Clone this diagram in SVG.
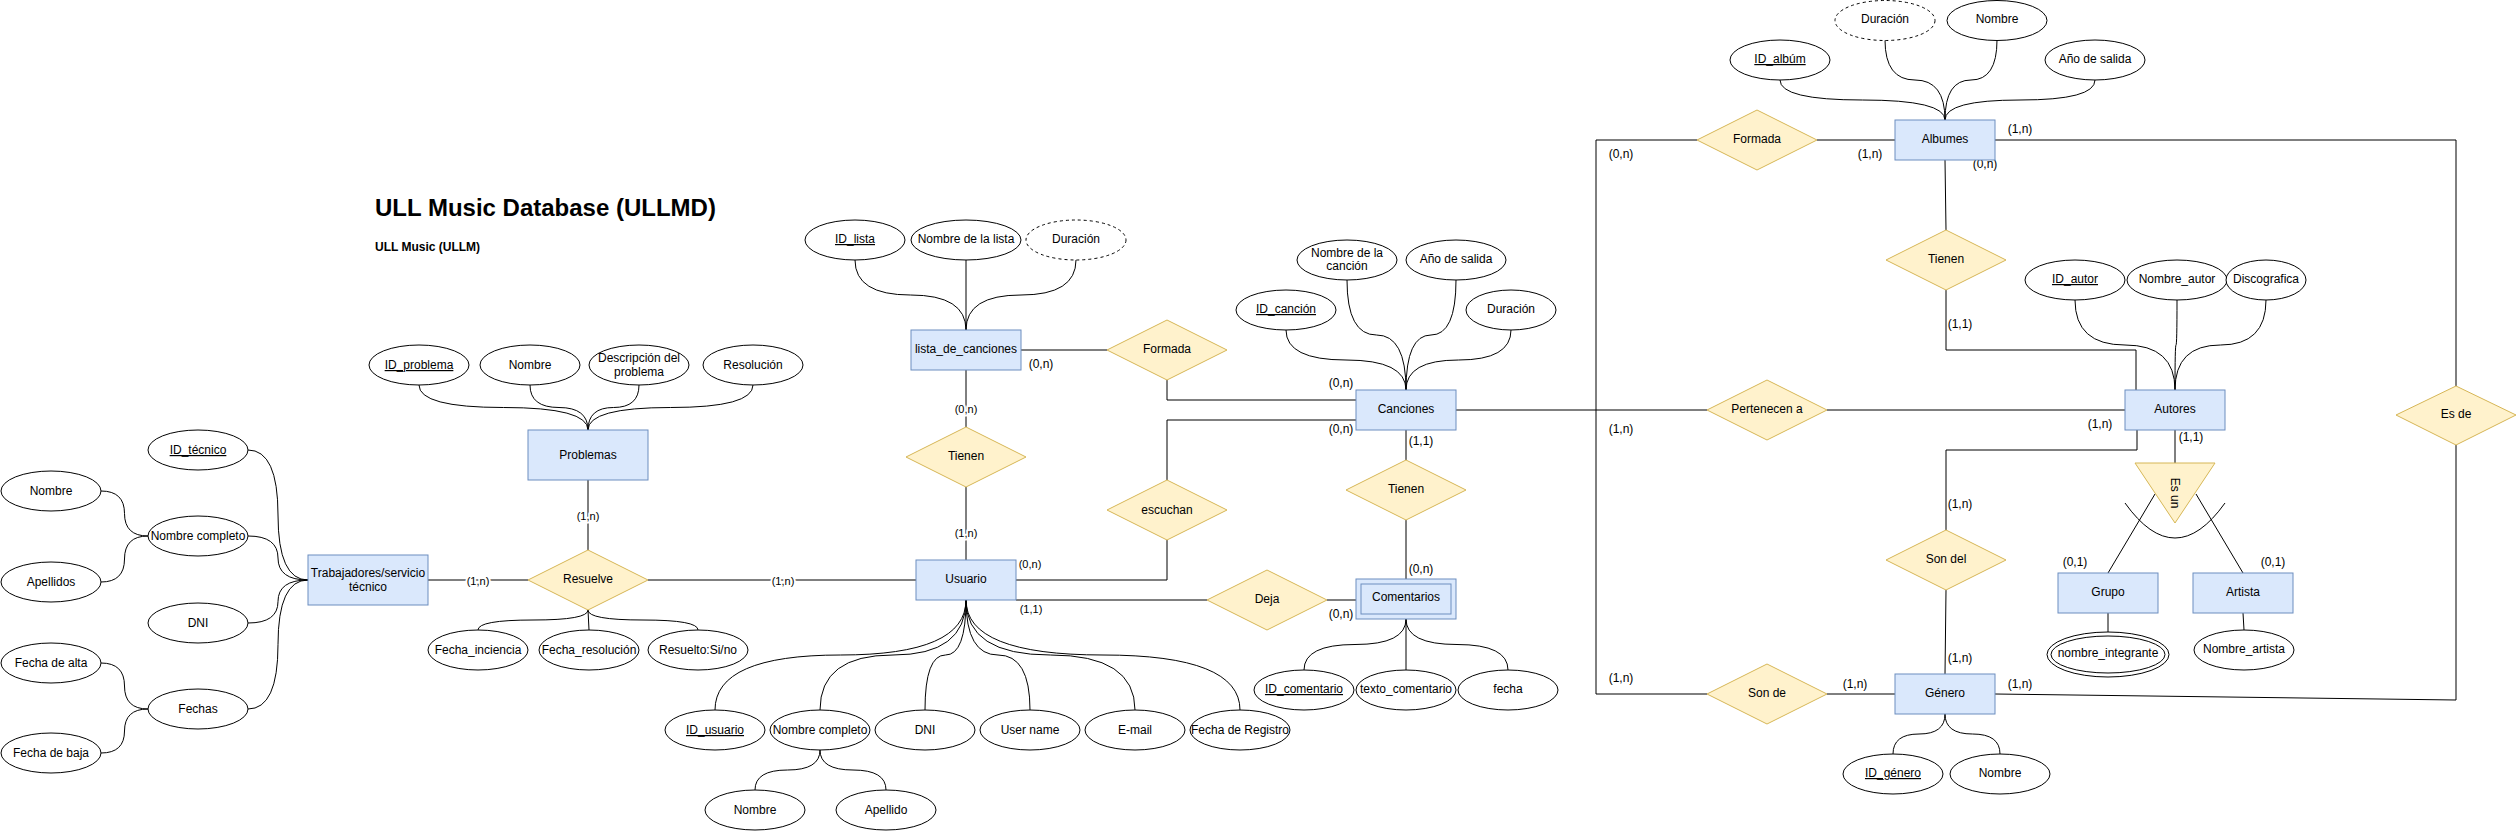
<svg xmlns="http://www.w3.org/2000/svg" width="2517" height="831" viewBox="0 0 2517 831">
<style>
.ent{fill:#dae8fc;stroke:#6c8ebf;stroke-width:1}
.rel{fill:#fff2cc;stroke:#d6b656;stroke-width:1}
.att{fill:#fff;stroke:#000;stroke-width:1}
.dash{stroke-dasharray:3 3}
.e{fill:none;stroke:#000;stroke-width:1}
text{font-family:"Liberation Sans",Arial,Helvetica,sans-serif;font-size:12px;fill:#000;text-anchor:middle;dominant-baseline:central}
.u{text-decoration:underline;dominant-baseline:auto}
.lb{font-size:12px}
.lw{font-size:11px;stroke:#fff;stroke-width:4px;paint-order:stroke;stroke-linejoin:round}
.title{font-size:24px;font-weight:bold;text-anchor:start;dominant-baseline:auto}
.sub{font-size:12px;font-weight:bold;text-anchor:start;dominant-baseline:auto}
</style>
<rect width="2517" height="831" fill="#fff"/>

<g id="titles">
<text class="title" x="375" y="216">ULL Music Database (ULLMD)</text>
<text class="sub" x="375" y="251">ULL Music (ULLM)</text>
</g>

<g id="connectors">
<path class="e" d="M248 450 Q278 450 278 515 Q278 580 308 580"/>
<path class="e" d="M248 536 Q278 536 278 558 Q278 580 308 580"/>
<path class="e" d="M248 623 Q278 623 278 601.5 Q278 580 308 580"/>
<path class="e" d="M248 709 Q278 709 278 644.5 Q278 580 308 580"/>
<path class="e" d="M101 491 Q124.5 491 124.5 513.5 Q124.5 536 148 536"/>
<path class="e" d="M101 582 Q124.5 582 124.5 559 Q124.5 536 148 536"/>
<path class="e" d="M101 663 Q124.5 663 124.5 686 Q124.5 709 148 709"/>
<path class="e" d="M101 753 Q124.5 753 124.5 731 Q124.5 709 148 709"/>
<path class="e" d="M419 385 Q419 407.5 503.5 407.5 Q588 407.5 588 430"/>
<path class="e" d="M530 385 Q530 407.5 559 407.5 Q588 407.5 588 430"/>
<path class="e" d="M639 385 Q639 407.5 613.5 407.5 Q588 407.5 588 430"/>
<path class="e" d="M753 385 Q753 407.5 670.5 407.5 Q588 407.5 588 430"/>
<path class="e" d="M588 610 Q588 620 533 620 Q478 620 478 630"/>
<path class="e" d="M588 610 L589 630"/>
<path class="e" d="M588 610 Q588 620 643 620 Q698 620 698 630"/>
<path class="e" d="M855 260 Q855 295 910.5 295 Q966 295 966 330"/>
<path class="e" d="M966 260 L966 330"/>
<path class="e" d="M1076 260 Q1076 295 1021 295 Q966 295 966 330"/>
<path class="e" d="M966 600 Q966 655 840.5 655 Q715 655 715 710"/>
<path class="e" d="M966 600 Q966 655 893 655 Q820 655 820 710"/>
<path class="e" d="M966 600 Q966 655 945.5 655 Q925 655 925 710"/>
<path class="e" d="M966 600 Q966 655 998 655 Q1030 655 1030 710"/>
<path class="e" d="M966 600 Q966 655 1050.5 655 Q1135 655 1135 710"/>
<path class="e" d="M966 600 Q966 655 1103 655 Q1240 655 1240 710"/>
<path class="e" d="M820 750 Q820 770 787.5 770 Q755 770 755 790"/>
<path class="e" d="M820 750 Q820 770 853 770 Q886 770 886 790"/>
<path class="e" d="M1286 330 Q1286 360 1346 360 Q1406 360 1406 390"/>
<path class="e" d="M1347 280 Q1347 335 1376.5 335 Q1406 335 1406 390"/>
<path class="e" d="M1456 280 Q1456 335 1431 335 Q1406 335 1406 390"/>
<path class="e" d="M1511 330 Q1511 360 1458.5 360 Q1406 360 1406 390"/>
<path class="e" d="M1406 619 Q1406 644.5 1355 644.5 Q1304 644.5 1304 670"/>
<path class="e" d="M1406 619 L1406 670"/>
<path class="e" d="M1406 619 Q1406 644.5 1457 644.5 Q1508 644.5 1508 670"/>
<path class="e" d="M1780 80 Q1780 100 1862.5 100 Q1945 100 1945 120"/>
<path class="e" d="M1885 40 Q1885 80 1915 80 Q1945 80 1945 120"/>
<path class="e" d="M1997 40 Q1997 80 1971 80 Q1945 80 1945 120"/>
<path class="e" d="M2095 80 Q2095 100 2020 100 Q1945 100 1945 120"/>
<path class="e" d="M2075 300 Q2075 345 2125 345 Q2175 345 2175 390"/>
<path class="e" d="M2177 300 Q2177 345 2176 345 Q2175 345 2175 390"/>
<path class="e" d="M2266 300 Q2266 345 2220.5 345 Q2175 345 2175 390"/>
<path class="e" d="M1945 714 Q1945 734 1919 734 Q1893 734 1893 754"/>
<path class="e" d="M1945 714 Q1945 734 1972.5 734 Q2000 734 2000 754"/>
<path class="e" d="M2108 613 L2108 632"/>
<path class="e" d="M2243 613 L2244 630"/>

<path class="e" d="M428 580 L528 580"/>
<path class="e" d="M648 580 L916 580"/>
<path class="e" d="M588 480 L588 550"/>
<path class="e" d="M1021 350 L1107 350"/>
<path class="e" d="M1167 380 L1167 400 L1356 400"/>
<path class="e" d="M966 370 L966 427"/>
<path class="e" d="M966 487 L966 560"/>
<path class="e" d="M1016 580 L1167 580 L1167 540"/>
<path class="e" d="M1167 480 L1167 420 L1356 420"/>
<path class="e" d="M1016 600 L1207 600"/>
<path class="e" d="M1327 600 L1356 600"/>
<path class="e" d="M1406 430 L1406 460"/>
<path class="e" d="M1406 520 L1406 579"/>
<path class="e" d="M1456 410 L1707 410"/>
<path class="e" d="M1697 140 L1596 140 L1596 694 L1707 694"/>
<path class="e" d="M1817 140 L1895 140"/>
<path class="e" d="M1995 140 L2456 140 L2456 386"/>
<path class="e" d="M1945 160 L1946 230"/>
<path class="e" d="M1946 290 L1946 350 L2136 350 L2136 390"/>
<path class="e" d="M1827 410 L2125 410"/>
<path class="e" d="M2137 430 L2137 450 L1946 450 L1946 530"/>
<path class="e" d="M1946 590 L1945 674"/>
<path class="e" d="M1827 694 L1895 694"/>
<path class="e" d="M1995 694 L2456 700 L2456 445"/>
<path class="e" d="M2175 430 L2175 463"/>
<path class="e" d="M2155 494 L2108 573"/>
<path class="e" d="M2196 494 L2243 573"/>
<path class="e" d="M2125 503 Q2175 573 2225 503"/>

<text class="lw" x="478" y="581">(1,n)</text>
<text class="lw" x="783" y="581">(1,n)</text>
<text class="lw" x="588" y="516">(1,n)</text>
<text class="lw" x="966" y="409">(0,n)</text>
<text class="lw" x="966" y="533">(1,n)</text>
<text class="lb" x="1041" y="364">(0,n)</text>
<text class="lb" x="1341" y="383">(0,n)</text>
<text class="lb" x="1341" y="429">(0,n)</text>
<text class="lb" x="1030" y="564" style="font-size:11px">(0,n)</text>
<text class="lb" x="1031" y="609" style="font-size:11px">(1,1)</text>
<text class="lb" x="1341" y="614">(0,n)</text>
<text class="lb" x="1421" y="441">(1,1)</text>
<text class="lb" x="1421" y="569">(0,n)</text>
<text class="lb" x="1621" y="154">(0,n)</text>
<text class="lb" x="1870" y="154">(1,n)</text>
<text class="lb" x="2020" y="129">(1,n)</text>
<text class="lb" x="1985" y="164">(0,n)</text>
<text class="lb" x="1960" y="324">(1,1)</text>
<text class="lb" x="1621" y="429">(1,n)</text>
<text class="lb" x="2100" y="424">(1,n)</text>
<text class="lb" x="1960" y="504">(1,n)</text>
<text class="lb" x="1960" y="658">(1,n)</text>
<text class="lb" x="1621" y="678">(1,n)</text>
<text class="lb" x="1855" y="684">(1,n)</text>
<text class="lb" x="2020" y="684">(1,n)</text>
<text class="lb" x="2191" y="437">(1,1)</text>
<text class="lb" x="2075" y="562">(0,1)</text>
<text class="lb" x="2273" y="562">(0,1)</text>
</g>

<g id="trabajadores"><rect class="ent" x="308" y="555" width="120" height="50"/><text x="368" y="573">Trabajadores/servicio</text><text x="368" y="587">técnico</text></g>
<g id="id_tecnico"><ellipse class="att" cx="198" cy="450" rx="50" ry="20"/><text class="u" x="198" y="454">ID_técnico</text></g>
<g id="nombre_completo_t"><ellipse class="att" cx="198" cy="536" rx="50" ry="20"/><text x="198" y="536">Nombre completo</text></g>
<g id="dni_t"><ellipse class="att" cx="198" cy="623" rx="50" ry="20"/><text x="198" y="623">DNI</text></g>
<g id="fechas_t"><ellipse class="att" cx="198" cy="709" rx="50" ry="20"/><text x="198" y="709">Fechas</text></g>
<g id="nombre_t"><ellipse class="att" cx="51" cy="491" rx="50" ry="20"/><text x="51" y="491">Nombre</text></g>
<g id="apellidos_t"><ellipse class="att" cx="51" cy="582" rx="50" ry="20"/><text x="51" y="582">Apellidos</text></g>
<g id="fecha_alta"><ellipse class="att" cx="51" cy="663" rx="50" ry="20"/><text x="51" y="663">Fecha de alta</text></g>
<g id="fecha_baja"><ellipse class="att" cx="51" cy="753" rx="50" ry="20"/><text x="51" y="753">Fecha de baja</text></g>

<g id="problemas"><rect class="ent" x="528" y="430" width="120" height="50"/><text x="588" y="455">Problemas</text></g>
<g id="id_problema"><ellipse class="att" cx="419" cy="365" rx="50" ry="20"/><text class="u" x="419" y="369">ID_problema</text></g>
<g id="nombre_p"><ellipse class="att" cx="530" cy="365" rx="50" ry="20"/><text x="530" y="365">Nombre</text></g>
<g id="descripcion_p"><ellipse class="att" cx="639" cy="365" rx="50" ry="20"/><text x="639" y="358">Descripción del</text><text x="639" y="372">problema</text></g>
<g id="resolucion_p"><ellipse class="att" cx="753" cy="365" rx="50" ry="20"/><text x="753" y="365">Resolución</text></g>

<g id="resuelve"><polygon class="rel" points="528,580 588,550 648,580 588,610"/><text x="588" y="579">Resuelve</text></g>
<g id="fecha_inciencia"><ellipse class="att" cx="478" cy="650" rx="50" ry="20"/><text x="478" y="650">Fecha_inciencia</text></g>
<g id="fecha_resolucion"><ellipse class="att" cx="589" cy="650" rx="50" ry="20"/><text x="589" y="650">Fecha_resolución</text></g>
<g id="resuelto"><ellipse class="att" cx="698" cy="650" rx="50" ry="20"/><text x="698" y="650">Resuelto:Si/no</text></g>

<g id="lista"><rect class="ent" x="911" y="330" width="110" height="40"/><text x="966" y="349">lista_de_canciones</text></g>
<g id="id_lista"><ellipse class="att" cx="855" cy="240" rx="50" ry="20"/><text class="u" x="855" y="243">ID_lista</text></g>
<g id="nombre_lista"><ellipse class="att" cx="966" cy="240" rx="55" ry="20"/><text x="966" y="239">Nombre de la lista</text></g>
<g id="duracion_lista"><ellipse class="att dash" cx="1076" cy="240" rx="50" ry="20"/><text x="1076" y="239">Duración</text></g>
<g id="formada_lista"><polygon class="rel" points="1107,350 1167,320 1227,350 1167,380"/><text x="1167" y="349">Formada</text></g>
<g id="tienen_lista"><polygon class="rel" points="906,457 966,427 1026,457 966,487"/><text x="966" y="456">Tienen</text></g>

<g id="usuario"><rect class="ent" x="916" y="560" width="100" height="40"/><text x="966" y="579">Usuario</text></g>
<g id="id_usuario"><ellipse class="att" cx="715" cy="730" rx="50" ry="20"/><text class="u" x="715" y="734">ID_usuario</text></g>
<g id="nombre_completo_u"><ellipse class="att" cx="820" cy="730" rx="50" ry="20"/><text x="820" y="730">Nombre completo</text></g>
<g id="dni_u"><ellipse class="att" cx="925" cy="730" rx="50" ry="20"/><text x="925" y="730">DNI</text></g>
<g id="username"><ellipse class="att" cx="1030" cy="730" rx="50" ry="20"/><text x="1030" y="730">User name</text></g>
<g id="email"><ellipse class="att" cx="1135" cy="730" rx="50" ry="20"/><text x="1135" y="730">E-mail</text></g>
<g id="fecha_registro"><ellipse class="att" cx="1240" cy="730" rx="50" ry="20"/><text x="1240" y="730">Fecha de Registro</text></g>
<g id="nombre_u"><ellipse class="att" cx="755" cy="810" rx="50" ry="20"/><text x="755" y="810">Nombre</text></g>
<g id="apellido_u"><ellipse class="att" cx="886" cy="810" rx="50" ry="20"/><text x="886" y="810">Apellido</text></g>
<g id="escuchan"><polygon class="rel" points="1107,510 1167,480 1227,510 1167,540"/><text x="1167" y="510">escuchan</text></g>
<g id="deja"><polygon class="rel" points="1207,600 1267,570 1327,600 1267,630"/><text x="1267" y="599">Deja</text></g>

<g id="canciones"><rect class="ent" x="1356" y="390" width="100" height="40"/><text x="1406" y="409">Canciones</text></g>
<g id="id_cancion"><ellipse class="att" cx="1286" cy="310" rx="50" ry="20"/><text class="u" x="1286" y="313">ID_canción</text></g>
<g id="nombre_cancion"><ellipse class="att" cx="1347" cy="260" rx="50" ry="20"/><text x="1347" y="253">Nombre de la</text><text x="1347" y="266">canción</text></g>
<g id="anio_cancion"><ellipse class="att" cx="1456" cy="260" rx="50" ry="20"/><text x="1456" y="259">Año de salida</text></g>
<g id="duracion_cancion"><ellipse class="att" cx="1511" cy="310" rx="45" ry="20"/><text x="1511" y="309">Duración</text></g>
<g id="tienen_canciones"><polygon class="rel" points="1346,490 1406,460 1466,490 1406,520"/><text x="1406" y="489">Tienen</text></g>

<g id="comentarios"><rect class="ent" x="1356" y="579" width="100" height="40"/><rect class="ent" x="1361" y="584" width="90" height="30"/><text x="1406" y="597">Comentarios</text></g>
<g id="id_comentario"><ellipse class="att" cx="1304" cy="690" rx="50" ry="20"/><text class="u" x="1304" y="693">ID_comentario</text></g>
<g id="texto_comentario"><ellipse class="att" cx="1406" cy="690" rx="50" ry="20"/><text x="1406" y="689">texto_comentario</text></g>
<g id="fecha_comentario"><ellipse class="att" cx="1508" cy="690" rx="50" ry="20"/><text x="1508" y="689">fecha</text></g>

<g id="albumes"><rect class="ent" x="1895" y="120" width="100" height="40"/><text x="1945" y="139">Albumes</text></g>
<g id="id_album"><ellipse class="att" cx="1780" cy="60" rx="50" ry="20"/><text class="u" x="1780" y="63">ID_albúm</text></g>
<g id="duracion_album"><ellipse class="att dash" cx="1885" cy="20.5" rx="50" ry="20"/><text x="1885" y="19">Duración</text></g>
<g id="nombre_album"><ellipse class="att" cx="1997" cy="20.5" rx="50" ry="20"/><text x="1997" y="19">Nombre</text></g>
<g id="anio_album"><ellipse class="att" cx="2095" cy="60" rx="50" ry="20"/><text x="2095" y="59">Año de salida</text></g>
<g id="formada_album"><polygon class="rel" points="1697,140 1757,110 1817,140 1757,170"/><text x="1757" y="139">Formada</text></g>
<g id="tienen_album"><polygon class="rel" points="1886,260 1946,230 2006,260 1946,290"/><text x="1946" y="259">Tienen</text></g>

<g id="autores"><rect class="ent" x="2125" y="390" width="100" height="40"/><text x="2175" y="409">Autores</text></g>
<g id="id_autor"><ellipse class="att" cx="2075" cy="280" rx="50" ry="20"/><text class="u" x="2075" y="283">ID_autor</text></g>
<g id="nombre_autor"><ellipse class="att" cx="2177" cy="280" rx="50" ry="20"/><text x="2177" y="279">Nombre_autor</text></g>
<g id="discografica"><ellipse class="att" cx="2266" cy="280" rx="40" ry="20"/><text x="2266" y="279">Discografica</text></g>
<g id="pertenecen"><polygon class="rel" points="1707,410 1767,380 1827,410 1767,440"/><text x="1767" y="409">Pertenecen a</text></g>
<g id="es_de"><polygon class="rel" points="2396,415 2456,386 2516,415 2456,445"/><text x="2456" y="414">Es de</text></g>
<g id="es_un"><polygon class="rel" points="2135,463 2215,463 2175,523"/><text x="2175" y="493" transform="rotate(90 2175 493)">Es un</text></g>
<g id="grupo"><rect class="ent" x="2058" y="573" width="100" height="40"/><text x="2108" y="592">Grupo</text></g>
<g id="artista"><rect class="ent" x="2193" y="573" width="100" height="40"/><text x="2243" y="592">Artista</text></g>
<g id="nombre_integrante"><ellipse class="att" cx="2108" cy="654.5" rx="61" ry="22.5"/><ellipse class="att" cx="2108" cy="654.5" rx="57" ry="18.5"/><text x="2108" y="653">nombre_integrante</text></g>
<g id="nombre_artista"><ellipse class="att" cx="2244" cy="650" rx="50" ry="20"/><text x="2244" y="649">Nombre_artista</text></g>

<g id="genero"><rect class="ent" x="1895" y="674" width="100" height="40"/><text x="1945" y="693">Género</text></g>
<g id="id_genero"><ellipse class="att" cx="1893" cy="774" rx="50" ry="20"/><text class="u" x="1893" y="777">ID_género</text></g>
<g id="nombre_genero"><ellipse class="att" cx="2000" cy="774" rx="50" ry="20"/><text x="2000" y="773">Nombre</text></g>
<g id="son_del"><polygon class="rel" points="1886,560 1946,530 2006,560 1946,590"/><text x="1946" y="559">Son del</text></g>
<g id="son_de"><polygon class="rel" points="1707,694 1767,664 1827,694 1767,724"/><text x="1767" y="693">Son de</text></g>
</svg>
